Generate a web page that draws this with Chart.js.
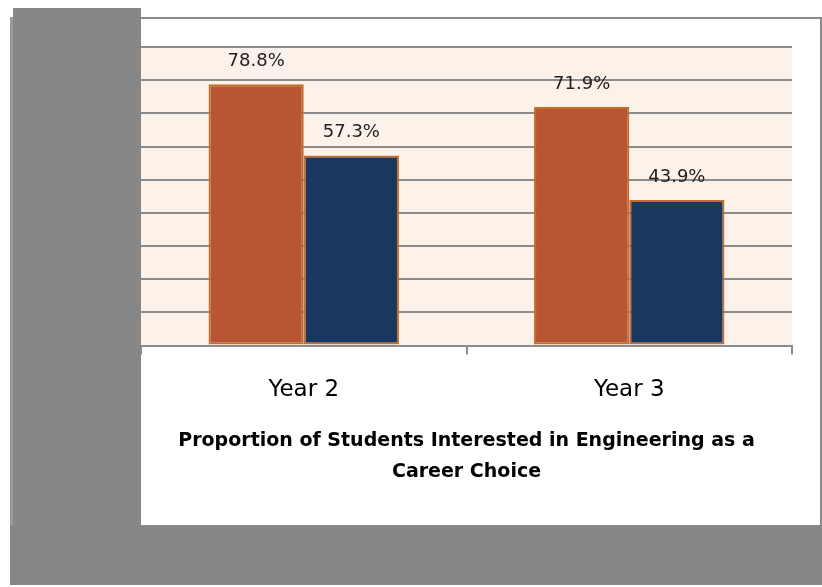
<!DOCTYPE html>
<html>
<head>
<meta charset="utf-8">
<script src="https://cdn.jsdelivr.net/npm/chart.js@4"></script>
<style>
  html, body { margin: 0; padding: 0; background: #fff; }
  body { width: 822px; height: 587px; position: relative; overflow: hidden; }
  .gray { position: absolute; background: #878787; }
  #wrap { position: absolute; left: 141px; top: 19px; width: 679px; height: 506px; background: #fff; }
</style>
</head>
<body>
<!-- frame pieces around the chart -->
<div class="gray" style="left:13px; top:8px; width:128px; height:577px;"></div>
<div class="gray" style="left:10px; top:17px; width:3px; height:568px; background:#9a9a9a;"></div>
<div class="gray" style="left:10px; top:525px; width:812px; height:60px;"></div>
<div class="gray" style="left:141px; top:17px; width:681px; height:2px; background:#8a8a8a;"></div>
<div class="gray" style="left:820px; top:17px; width:2px; height:508px; background:#8a8a8a;"></div>
<div id="wrap"><canvas id="chart"></canvas></div>

<script>
// ----- Data -----
const categories = ["Year 2", "Year 3"];
const firstSeries = [78.8, 71.9];
const secondSeries = [57.3, 43.9];
const yMin = 0, yMax = 90, yStep = 10;
const titleLines = ["Proportion of Students Interested in Engineering as a", "Career Choice"];

// peach plot background
const plotBg = {
  id: "plotBg",
  beforeDraw(chart) {
    const { ctx, chartArea: a } = chart;
    ctx.save();
    ctx.fillStyle = "#fdf2ea";
    ctx.fillRect(a.left, a.top, a.right - a.left, a.bottom - a.top);
    ctx.restore();
  }
};

// percent labels above each bar
const barLabels = {
  id: "barLabels",
  afterDatasetsDraw(chart) {
    const { ctx } = chart;
    ctx.save();
    ctx.font = "18px 'DejaVu Sans'";
    ctx.fillStyle = "#222";
    ctx.textAlign = "center";
    ctx.textBaseline = "middle";
    chart.data.datasets.forEach((ds, i) => {
      chart.getDatasetMeta(i).data.forEach((bar, j) => {
        ctx.fillText(ds.data[j].toFixed(1) + "%", bar.x, bar.y - 23);
      });
    });
    ctx.restore();
  }
};

new Chart(document.getElementById("chart"), {
  type: "bar",
  data: {
    labels: categories,
    datasets: [
      {
        data: firstSeries,
        backgroundColor: "#b85634",
        borderColor: "#c26f2e",
        borderWidth: 2,
        borderSkipped: false,
        barPercentage: 1,
        categoryPercentage: 0.585
      },
      {
        data: secondSeries,
        backgroundColor: "#19375f",
        borderColor: "#c26f2e",
        borderWidth: 2,
        borderSkipped: false,
        barPercentage: 1,
        categoryPercentage: 0.585
      }
    ]
  },
  options: {
    responsive: true,
    maintainAspectRatio: false,
    animation: false,
    layout: { padding: { left: 0, right: 28, top: 28, bottom: 38 } },
    plugins: {
      legend: { display: false },
      tooltip: { enabled: false },
      title: {
        display: true,
        position: "bottom",
        text: titleLines,
        color: "#000",
        font: { family: "'DejaVu Sans'", size: 19, weight: "bold", lineHeight: 1.6 },
        padding: { top: 0, bottom: 0 }
      }
    },
    scales: {
      x: {
        grid: { drawOnChartArea: false, drawTicks: true, tickLength: 9, color: "#8c8c8c", lineWidth: 2 },
        border: { display: true, color: "#8c8c8c", width: 2 },
        ticks: { color: "#000", padding: 22, font: { family: "'DejaVu Sans'", size: 23 } }
      },
      y: {
        min: yMin,
        max: yMax,
        ticks: { display: false, stepSize: yStep },
        grid: { drawTicks: false, color: "#8c8c8c", lineWidth: 2 },
        border: { display: false }
      }
    }
  },
  plugins: [plotBg, barLabels]
});
</script>
</body>
</html>
